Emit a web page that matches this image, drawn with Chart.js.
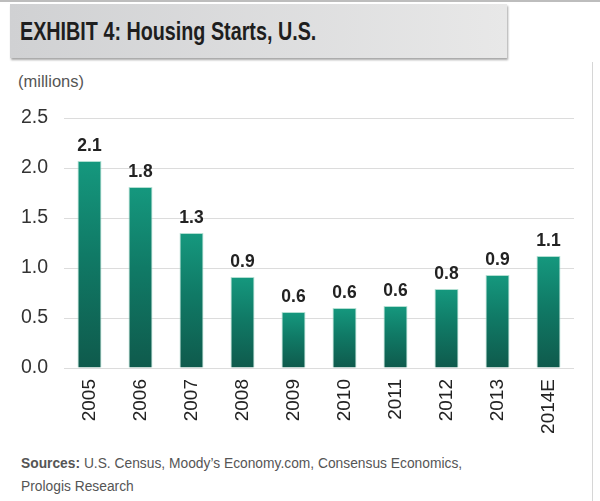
<!DOCTYPE html>
<html>
<head>
<meta charset="utf-8">
<script src="https://cdn.jsdelivr.net/npm/chart.js@4/dist/chart.umd.min.js"></script>
<style>
  html, body { margin: 0; padding: 0; background: #fff; }
  body { width: 600px; height: 501px; position: relative; overflow: hidden; font-family: "Liberation Sans", Arial, sans-serif; }
  .topline { position: absolute; left: 0; top: 0; width: 600px; height: 2px; background: #bdbdbd; }
  .rightline { position: absolute; left: 592px; top: 62px; width: 1px; height: 439px; background: #d6d6d6; }
  .banner { position: absolute; left: 10px; top: 4px; width: 497px; height: 54px;
    background: linear-gradient(to right, #d0d1d3, #e8e8e8);
    box-shadow: 1px 2px 2px rgba(0,0,0,0.35); }
  .banner h1 { margin: 0; position: absolute; left: 10px; top: 13px; white-space: nowrap;
    font-family: "Liberation Sans", Arial, sans-serif; font-weight: bold; font-size: 25px; color: #1e1e1e;
    transform: scaleX(0.79); transform-origin: 0 0; }
  .unit { position: absolute; left: 18px; top: 72px; font-size: 16.5px; color: #555; }
  .sources { position: absolute; left: 21px; top: 451px; font-size: 15.5px; color: #555; line-height: 23px;
    white-space: nowrap; transform: scaleX(0.89); transform-origin: 0 0; }
  .sources b { color: #555; }
  canvas { position: absolute; left: 0; top: 0; }
</style>
</head>
<body>
<div class="topline"></div>
<div class="rightline"></div>
<div class="banner"><h1>EXHIBIT 4: Housing Starts, U.S.</h1></div>
<div class="unit">(millions)</div>
<div class="sources"><b>Sources:</b> U.S. Census, Moody’s Economy.com, Consensus Economics,<br>Prologis Research</div>
<canvas id="housingChart" width="600" height="501"></canvas>
<script>
const years = ['2005', '2006', '2007', '2008', '2009', '2010', '2011', '2012', '2013', '2014E'];
const starts = [2.07, 1.81, 1.35, 0.91, 0.56, 0.60, 0.62, 0.79, 0.93, 1.12];
const startLabels = ['2.1', '1.8', '1.3', '0.9', '0.6', '0.6', '0.6', '0.8', '0.9', '1.1'];

const valueLabels = {
    id: 'valueLabels',
    afterDatasetsDraw(chart) {
        const ctx = chart.ctx;
        ctx.save();
        ctx.font = 'bold 17.5px "Liberation Sans", Arial, sans-serif';
        ctx.fillStyle = '#222';
        ctx.textAlign = 'center';
        ctx.textBaseline = 'bottom';
        chart.getDatasetMeta(0).data.forEach((bar, i) => {
            ctx.fillText(startLabels[i], bar.x, bar.y - 6);
        });
        ctx.restore();
    }
};

new Chart(document.getElementById('housingChart'), {
    type: 'bar',
    data: {
        labels: years,
        datasets: [{
            data: starts,
            backgroundColor: context => {
                const chart = context.chart;
                if (!chart.chartArea || !chart.scales.y) return '#14967c';
                const y = chart.scales.y;
                const top = y.getPixelForValue(context.raw);
                const bottom = y.getPixelForValue(0);
                const g = chart.ctx.createLinearGradient(0, top, 0, bottom);
                g.addColorStop(0, '#15987e');
                g.addColorStop(0.45, '#107a66');
                g.addColorStop(1, '#0f5a4c');
                return g;
            },
            borderColor: 'rgba(170, 220, 205, 0.9)',
            borderWidth: 1,
            barPercentage: 0.94,
            categoryPercentage: 0.5
        }]
    },
    options: {
        responsive: false,
        animation: false,
        layout: { padding: { top: 118, right: 26, left: 0, bottom: 0 } },
        plugins: {
            legend: { display: false },
            tooltip: { enabled: false }
        },
        scales: {
            y: {
                min: 0,
                max: 2.5,
                ticks: {
                    stepSize: 0.5,
                    padding: 16,
                    color: '#333',
                    font: { size: 19.5, family: '"Liberation Sans", Arial, sans-serif' },
                    callback: v => v.toFixed(1)
                },
                grid: { color: '#dcdcdc', drawTicks: false },
                border: { display: false },
                afterFit: scale => { scale.width = 64; }
            },
            x: {
                ticks: {
                    minRotation: 90,
                    maxRotation: 90,
                    padding: 11,
                    color: '#222',
                    font: { size: 19, family: '"Liberation Sans", Arial, sans-serif' }
                },
                grid: { display: false, drawTicks: false },
                border: { display: false },
                afterFit: scale => { scale.height = 133; }
            }
        }
    },
    plugins: [valueLabels]
});
</script>
</body>
</html>
